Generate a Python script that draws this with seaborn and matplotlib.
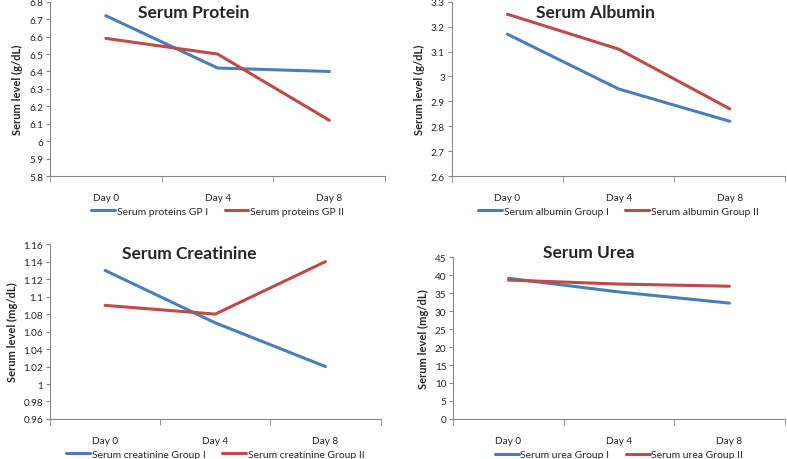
import matplotlib
matplotlib.use("Agg")
import matplotlib.pyplot as plt
import seaborn as sns
import pandas as pd

days = ["Day 0", "Day 4", "Day 8"]

protein_g1 = [6.72, 6.42, 6.40]
protein_g2 = [6.59, 6.50, 6.12]
albumin_g1 = [3.17, 2.95, 2.82]
albumin_g2 = [3.25, 3.11, 2.87]
creat_g1 = [1.13, 1.07, 1.02]
creat_g2 = [1.09, 1.08, 1.14]
urea_g1 = [39.1, 35.3, 32.2]
urea_g2 = [38.6, 37.5, 36.9]

protein_labels = ["Serum proteins GP I", "Serum proteins GP II"]
albumin_labels = ["Serum albumin Group I", "Serum albumin Group II"]
creat_labels = ["Serum creatinine Group I", "Serum creatinine Group II"]
urea_labels = ["Serum urea Group I", "Serum urea Group II"]

titles = ["Serum Protein", "Serum Albumin", "Serum Creatinine", "Serum Urea"]
ylabels = ["Serum level (g/dL)", "Serum level (g/dL)", "Serum level (mg/dL)", "Serum level (mg/dL)"]

sns.set_style("white")
plt.rcParams["font.family"] = ["Lato", "DejaVu Sans"]

BLUE = "#4A7EBB"
RED = "#BE4B48"

fig = plt.figure(figsize=(7.87, 4.6), dpi=100)

panels = [
    dict(pos=[0.0635, 0.615, 0.426, 0.379], g1=protein_g1, g2=protein_g2, labels=protein_labels,
         ylim=(5.8, 6.8), step=0.1, title_xy=(0.43, 0.94), legy=-0.2),
    dict(pos=[0.574, 0.615, 0.424, 0.379], g1=albumin_g1, g2=albumin_g2, labels=albumin_labels,
         ylim=(2.6, 3.3), step=0.1, title_xy=(0.43, 0.94), legy=-0.2),
    dict(pos=[0.0635, 0.087, 0.42, 0.38], g1=creat_g1, g2=creat_g2, labels=creat_labels,
         ylim=(0.96, 1.16), step=0.02, title_xy=(0.42, 0.95), legy=-0.2),
    dict(pos=[0.576, 0.087, 0.421, 0.352], g1=urea_g1, g2=urea_g2, labels=urea_labels,
         ylim=(0, 45), step=5, title_xy=(0.41, 1.03), legy=-0.22),
]

for i, p in enumerate(panels):
    ax = fig.add_axes(p["pos"])
    df = pd.DataFrame({
        "Day": list(range(3)) * 2,
        "value": p["g1"] + p["g2"],
        "series": [p["labels"][0]] * 3 + [p["labels"][1]] * 3,
    })
    sns.lineplot(data=df, x="Day", y="value", hue="series",
                 palette=[BLUE, RED], linewidth=2.2, ax=ax, legend=True)
    ax.set_xlim(-0.5, 2.5)
    ax.set_ylim(*p["ylim"])
    n = int(round((p["ylim"][1] - p["ylim"][0]) / p["step"]))
    yt = [p["ylim"][0] + k * p["step"] for k in range(n + 1)]
    ax.set_yticks(yt)
    ax.set_yticklabels(["{:g}".format(round(v, 2)) for v in yt], fontsize=7.2)
    ax.set_xticks([0, 1, 2])
    ax.set_xticklabels(days, fontsize=7.2)
    ax.set_xticks([-0.5, 0.5, 1.5, 2.5], minor=True)
    ax.tick_params(axis="x", which="major", length=0, pad=12)
    ax.tick_params(axis="x", which="minor", length=4, color="#888888", direction="out", bottom=True)
    ax.tick_params(axis="y", length=3, color="#888888", direction="out", left=True, pad=2)
    for s in ["top", "right"]:
        ax.spines[s].set_visible(False)
    for s in ["left", "bottom"]:
        ax.spines[s].set_color("#888888")
        ax.spines[s].set_linewidth(0.8)
    ax.set_xlabel("")
    ax.set_ylabel(ylabels[i], fontsize=8, fontweight="bold", labelpad=4)
    ax.text(p["title_xy"][0], p["title_xy"][1], titles[i], transform=ax.transAxes,
            ha="center", va="center", fontsize=12.5, fontweight="bold")
    ax.grid(False)
    ax.legend(loc="center", bbox_to_anchor=(0.5, p["legy"]), ncol=2, frameon=False,
              fontsize=7.5, handlelength=2.3, columnspacing=1.6, handletextpad=0.15)

fig.savefig("out.png", dpi=100)
